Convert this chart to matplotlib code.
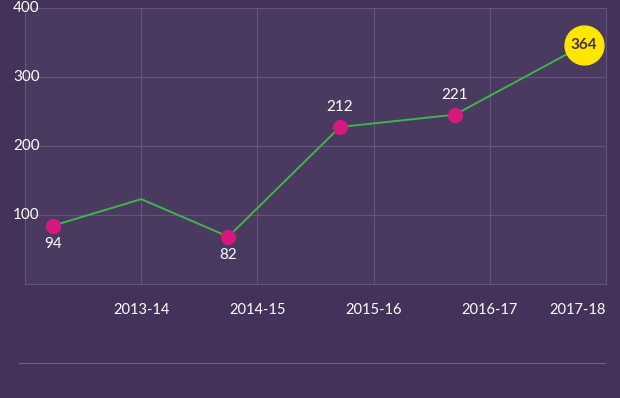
import matplotlib
matplotlib.use("Agg")
import matplotlib.pyplot as plt
from matplotlib.lines import Line2D
from matplotlib import transforms

# ---- Data -------------------------------------------------------------
x_pos = [0.24, 1.0, 1.75, 2.71, 3.70, 4.81]
y_vals = [84.5, 123, 68.6, 227.5, 245.4, 346.4]
point_labels = ["94", None, "82", "212", "221", "364"]
label_side = ["below", None, "below", "above", "above", "center"]
x_ticks = [1, 2, 3, 4, 5]
x_tick_labels = ["2013-14", "2014-15", "2015-16", "2016-17", "2017-18"]
y_ticks = [100, 200, 300, 400]

# ---- Style ------------------------------------------------------------
BG = "#45325a"
PLOT_BG = "#4b3a60"
GRID = "#65557c"
LINE = "#3db54a"
DOT = "#d6197e"
HIGHLIGHT = "#ffe600"
TEXT = "#ffffff"
DARK = "#45325a"

plt.rcParams["font.family"] = ["Lato", "DejaVu Sans"]

W, H = 620, 398
fig = plt.figure(figsize=(W / 100, H / 100), dpi=100, facecolor=BG)
ax = fig.add_axes([25 / W, (H - 284) / H, (606 - 25) / W, (284 - 8) / H])
ax.set_facecolor(PLOT_BG)
ax.set_xlim(0, 5)
ax.set_ylim(0, 400)

for s in ax.spines.values():
    s.set_color(GRID)
    s.set_linewidth(0.8)

ax.set_xticks(x_ticks)
ax.set_yticks(y_ticks)
ax.grid(True, color=GRID, linewidth=0.8)
ax.set_axisbelow(True)
ax.tick_params(length=0, labelleft=False)
ax.set_xticklabels(x_tick_labels, color=TEXT, fontsize=10.5)
ax.tick_params(axis="x", pad=14)
ax.get_xticklabels()[-1].set_horizontalalignment("right")

# y labels sit over the left edge of the plot
trans = transforms.blended_transform_factory(fig.transFigure, ax.transData)
for v in y_ticks:
    ax.text(13 / W, v, str(v), transform=trans, ha="left", va="center",
            color=TEXT, fontsize=11, clip_on=False)

ax.plot(x_pos, y_vals, color=LINE, linewidth=1.4, zorder=3)

for x, y, lab, side in zip(x_pos, y_vals, point_labels, label_side):
    if lab is None:
        continue
    if side == "center":
        ax.plot(x, y, "o", markersize=28, color=HIGHLIGHT, zorder=4, clip_on=False)
        ax.text(x, y, lab, ha="center", va="center", color=DARK,
                fontsize=11, fontweight="bold", zorder=5)
        continue
    ax.plot(x, y, "o", markersize=10, color=DOT, zorder=4)
    dy = -18 if side == "below" else 20
    ax.annotate(lab, (x, y), xytext=(0, dy), textcoords="offset pixels",
                ha="center", va="center", color=TEXT, fontsize=11, zorder=5)

fig.add_artist(Line2D([19 / W, 605 / W], [(H - 363) / H] * 2,
                      transform=fig.transFigure, color="#6e5d86", linewidth=0.9))

fig.savefig("out.png", dpi=100, facecolor=BG)
